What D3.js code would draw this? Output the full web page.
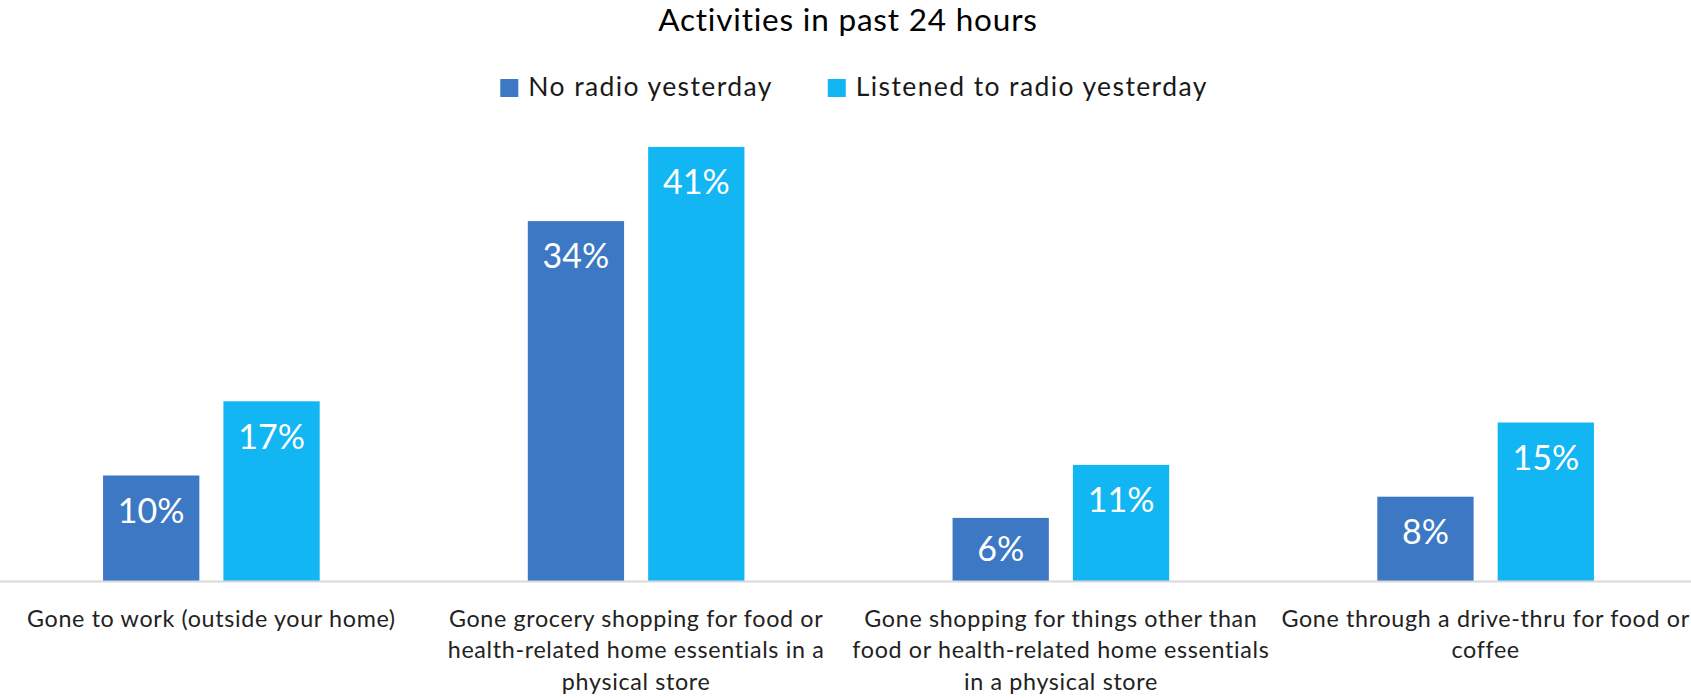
<!DOCTYPE html>
<html>
<head>
<meta charset="utf-8">
<script src="https://cdn.jsdelivr.net/npm/d3@7/dist/d3.min.js"></script>
<style>
  html, body { margin: 0; padding: 0; background: #ffffff; }
  svg { display: block; font-family: Lato, "Open Sans", sans-serif; }
</style>
</head>
<body>
<svg id="chart" width="1691" height="698"></svg>
<script>
// Chart data
const title = "Activities in past 24 hours";
const categories = [
  "Gone to work (outside your home)",
  "Gone grocery shopping for food or\nhealth-related home essentials in a\nphysical store",
  "Gone shopping for things other than\nfood or health-related home essentials\nin a physical store",
  "Gone through a drive-thru for food or\ncoffee"
];
const seriesNames = ["No radio yesterday", "Listened to radio yesterday"];
const noRadio = [10, 34, 6, 8];
const listenedRadio = [17, 41, 11, 15];
const seriesColors = ["#3c78c3", "#12b6f3"];

const svg = d3.select("#chart");
const W = 1691, H = 698;
const baseline = 581.5;

// Scales
const x0 = d3.scaleBand()
  .domain(d3.range(categories.length))
  .range([-1, 1698])
  .paddingInner(0.49)
  .paddingOuter(0.245);

const x1 = d3.scaleBand()
  .domain(d3.range(seriesNames.length))
  .range([0, x0.bandwidth()])
  .paddingInner(0.2);

const y = d3.scaleLinear()
  .domain([0, 45])
  .range([baseline, baseline - 45 * 10.6]);

const series = [noRadio, listenedRadio];
const rows = categories.map((c, i) => ({ i, values: series.map(s => s[i]) }));

// Title
svg.append("text")
  .attr("x", 848)
  .attr("y", 31)
  .attr("text-anchor", "middle")
  .attr("font-size", 31.5)
  .attr("letter-spacing", 0.8)
  .attr("fill", "#000")
  .text(title);

// Legend, centred as a group
const legend = svg.append("g").attr("class", "legend");
const items = legend.selectAll("g.item")
  .data(seriesNames)
  .join("g")
  .attr("class", "item");
items.append("rect")
  .attr("width", 18)
  .attr("height", 18)
  .attr("y", 79)
  .attr("fill", (d, i) => seriesColors[i]);
items.append("text")
  .attr("x", 28)
  .attr("y", 96.3)
  .attr("font-size", 26.5)
  .attr("letter-spacing", 1.4)
  .attr("fill", "#1a1a1a")
  .text(d => d);
let cursor = 0;
const itemGap = 55;
const offsets = [];
items.each(function () {
  const w = 28 + d3.select(this).select("text").node().getComputedTextLength();
  offsets.push(cursor);
  cursor += w + itemGap;
});
const legendWidth = cursor - itemGap;
const legendStart = 854 - legendWidth / 2;
items.attr("transform", (d, i) => `translate(${legendStart + offsets[i]},0)`);

// Bars
const groups = svg.append("g").selectAll("g.group")
  .data(rows)
  .join("g")
  .attr("class", "group")
  .attr("transform", d => `translate(${x0(d.i)},0)`);

groups.selectAll("rect")
  .data(d => d.values.map((v, k) => ({ v, k })))
  .join("rect")
  .attr("x", d => x1(d.k))
  .attr("width", x1.bandwidth())
  .attr("y", d => y(d.v))
  .attr("height", d => baseline - y(d.v))
  .attr("fill", d => seriesColors[d.k]);

// Value labels inside the bar ends
groups.selectAll("text.value")
  .data(d => d.values.map((v, k) => ({ v, k })))
  .join("text")
  .attr("class", "value")
  .attr("x", d => x1(d.k) + x1.bandwidth() / 2)
  .attr("y", d => Math.min(y(d.v) + 35, baseline - 33))
  .attr("dy", "0.36em")
  .attr("text-anchor", "middle")
  .attr("font-size", 34)
  .attr("fill", "#ffffff")
  .text(d => d.v + "%");

// Category axis line
const axis = d3.axisBottom(x0).tickSize(0).tickFormat("");
const axisG = svg.append("g")
  .attr("transform", `translate(0,${baseline})`)
  .call(axis);
axisG.select(".domain").remove();
axisG.append("line")
  .attr("x1", 0).attr("x2", W)
  .attr("stroke", "#d9d9d9")
  .attr("stroke-width", 2);

// Category labels, wrapped over multiple lines
const catLabels = svg.append("g").selectAll("text.cat")
  .data(categories)
  .join("text")
  .attr("class", "cat")
  .attr("text-anchor", "middle")
  .attr("font-size", 23.3)
  .attr("letter-spacing", 0.66)
  .attr("fill", "#222")
  .attr("transform", (d, i) => `translate(${x0(i) + x0.bandwidth() / 2},626.5)`);
catLabels.selectAll("tspan")
  .data(d => d.split("\n"))
  .join("tspan")
  .attr("x", 0)
  .attr("y", (d, j) => j * 31.5)
  .text(d => d);
</script>
</body>
</html>
